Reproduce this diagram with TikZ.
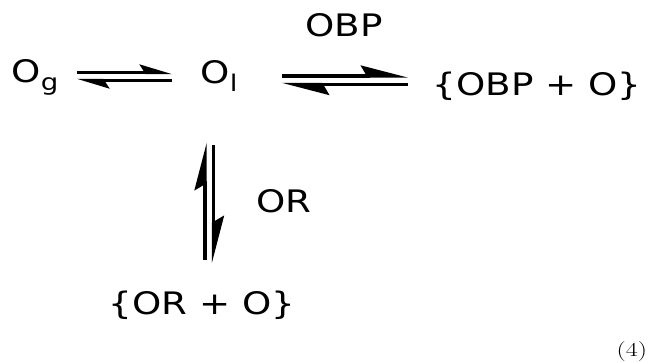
\documentclass[tikz,border=0pt]{standalone}
\usepackage{fontspec}
\setmainfont{DejaVu Sans}[FakeStretch=1.2]
\newfontfamily\eqnumfont{Latin Modern Roman}[FakeStretch=1.3]
\usetikzlibrary{arrows.meta}

% lowered, smaller subscript
\newcommand\lowsub[1]{\raisebox{-8pt}{\fontsize{23}{23}\selectfont #1}}

\begin{document}
\begin{tikzpicture}[x=1pt,y=-1pt,
  every node/.style={inner sep=0pt, outer sep=0pt},
  species/.style={font=\fontsize{31}{31}\selectfont, anchor=base},
  eqline/.style={line width=3.2pt},
  smallharp/.style={eqline, -{Stealth[harpoon, length=27pt, width=16pt, inset=5pt]}},
  bigharp/.style={eqline, -{Stealth[harpoon, length=41pt, width=21pt, inset=6pt]}}]
\useasboundingbox (0,0) rectangle (649,363);

% species
\node[species] (og)   at (35,83)  {O\lowsub{g}};
\node[species] (ol)   at (219,84) {O\lowsub{l}};
\node[species] (obp)  at (344,37) {OBP};
\node[species] (obpo) at (537,96) {\{OBP + O\}};
\node[species] (or)   at (284,213) {OR};
\node[species] (oro)  at (202,315) {\{OR + O\}};
\node[font=\eqnumfont\fontsize{20}{20}\selectfont, anchor=base east] (num) at (647,357) {(4)};

% arrow end points
\coordinate (a1w) at (77,72.5);   \coordinate (a1e) at (172,72.5);
\coordinate (a2w) at (77,80.5);   \coordinate (a2e) at (172,80.5);
\coordinate (b1w) at (282,76);    \coordinate (b1e) at (408,76);
\coordinate (b2w) at (282,84.5);  \coordinate (b2e) at (408,84.5);
\coordinate (c1n) at (205,143);   \coordinate (c1s) at (205,260);
\coordinate (c2n) at (213.5,145); \coordinate (c2s) at (213.5,263);

% O_g <=> O_l
\draw[smallharp] (a1w) -- (a1e);
\draw[smallharp] (a2e) -- (a2w);
% O_l <=> {OBP + O}
\draw[bigharp] (b1w) -- (b1e);
\draw[bigharp] (b2e) -- (b2w);
% O_l <=> {OR + O}
\draw[bigharp] (c1s) -- (c1n);
\draw[bigharp] (c2n) -- (c2s);
\end{tikzpicture}
\end{document}
